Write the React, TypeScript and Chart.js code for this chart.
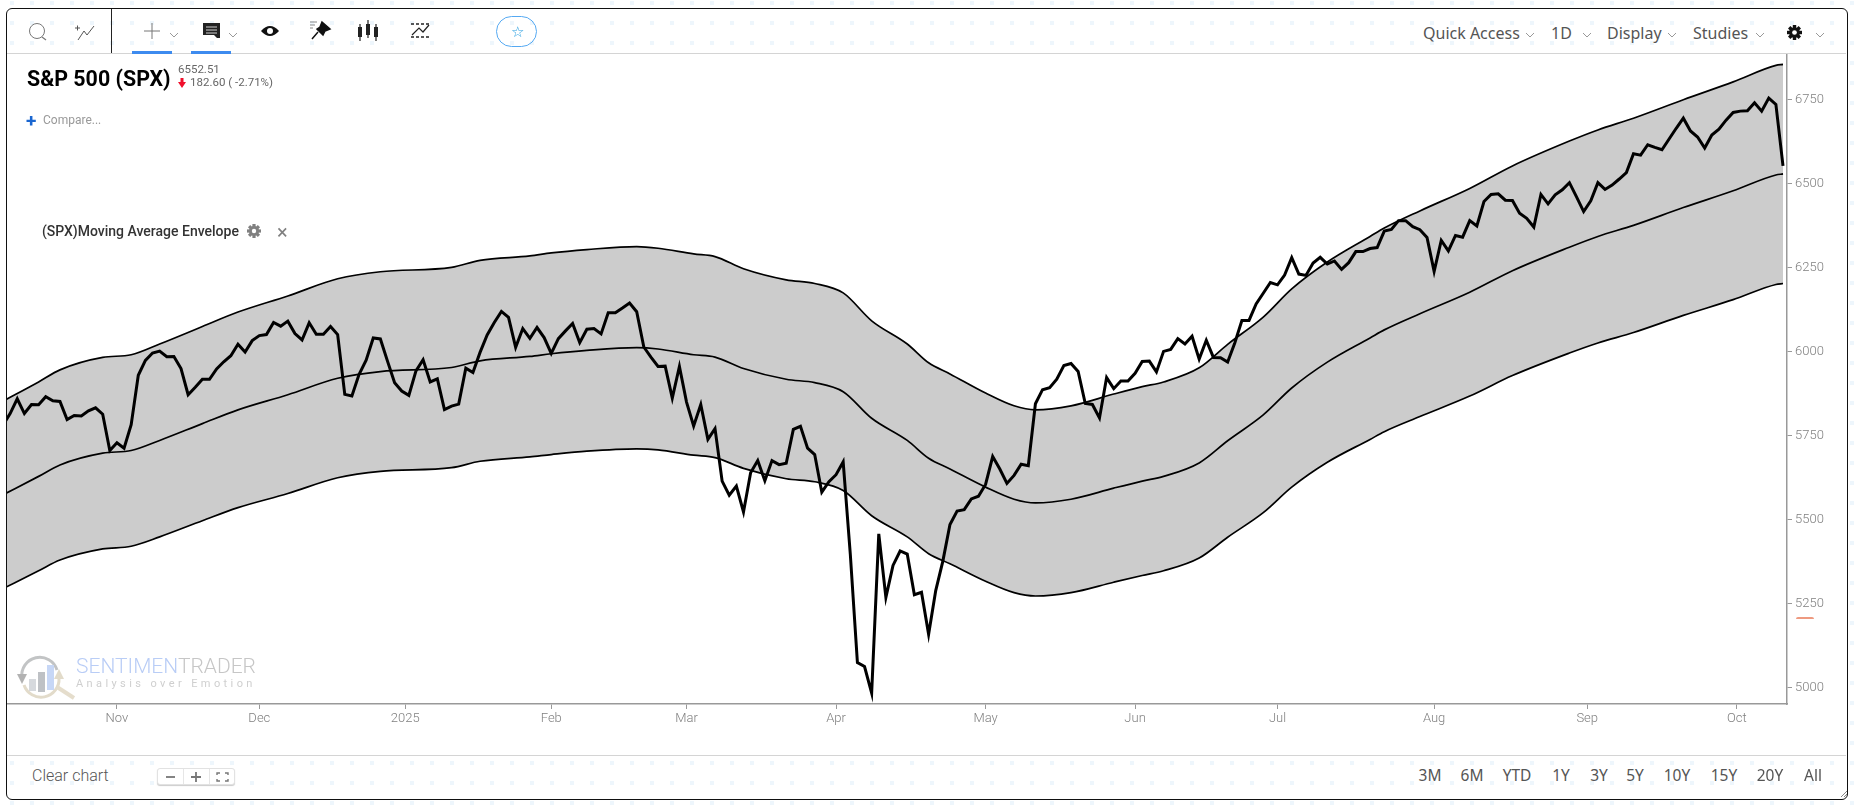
import React, { useEffect, useRef } from "react";
import { Chart, registerables } from "chart.js";

Chart.register(...registerables);

// SPX daily closes (10 Oct 2024 to 10 Oct 2025)
const price = [
  5780, 5815, 5859, 5815, 5842, 5841, 5865, 5853, 5851, 5797, 5809, 5808, 5823, 5832, 5813, 5705,
  5728, 5712, 5782, 5929, 5973, 5995, 6001, 5984, 5985, 5949, 5871, 5893, 5917, 5917, 5948, 5969, 5987, 6021, 5998, 6032,
  6047, 6050, 6086, 6075, 6090, 6053, 6034, 6085, 6051, 6051, 6074, 6050, 5872, 5867, 5931, 5974, 6040, 6037, 5971, 5907, 5882,
  5869, 5942, 5975, 5909, 5918, 5827, 5837, 5843, 5950, 5937, 5997, 6049, 6086, 6119, 6101, 6012, 6068, 6039, 6071, 6041,
  5994, 6038, 6061, 6083, 6026, 6066, 6068, 6052, 6115, 6115, 6129, 6144, 6118, 6013, 5983, 5955, 5956, 5861, 5955,
  5849, 5778, 5842, 5738, 5770, 5614, 5572, 5599, 5522, 5639, 5675, 5615, 5675, 5663, 5667, 5768, 5777, 5712, 5693, 5581, 5612,
  5633, 5671, 5397, 5074, 5062, 4983, 5457, 5268, 5363, 5406, 5397, 5276, 5283, 5158, 5288, 5376, 5485, 5525, 5529, 5561, 5569,
  5604, 5687, 5650, 5607, 5631, 5664, 5660, 5844, 5886, 5892, 5917, 5958, 5964, 5940, 5845, 5842, 5802, 5922, 5889, 5912, 5912,
  5935, 5970, 5971, 5939, 6000, 6006, 6038, 6022, 6045, 5977, 6033, 5982, 5981, 5968, 6025, 6092, 6092, 6141, 6173, 6205,
  6198, 6227, 6279, 6230, 6226, 6263, 6280, 6260, 6269, 6244, 6264, 6297, 6297, 6306, 6309, 6358, 6363, 6389, 6389, 6371, 6362, 6339,
  6238, 6330, 6299, 6345, 6340, 6389, 6373, 6446, 6467, 6469, 6450, 6449, 6411, 6396, 6370, 6467, 6439, 6466, 6481, 6502, 6460,
  6416, 6448, 6502, 6482, 6495, 6513, 6532, 6588, 6584, 6615, 6607, 6600, 6632, 6664, 6694, 6656, 6638, 6605, 6644, 6661, 6688,
  6711, 6715, 6716, 6740, 6715, 6754, 6735, 6552,
];

// Envelope curves at these trading-day positions
const bandAt = [0, 5, 8, 14, 18, 22, 28, 33, 40, 47, 53, 63, 67, 74, 77, 82, 89, 92, 97, 100, 104, 110, 114, 118, 122, 127, 130, 133, 138, 142, 145, 150, 156, 160, 163, 168, 172, 177, 181, 186, 192, 194, 199, 206, 212, 220, 224, 229, 236, 243, 249, 250];
const bandMiddle = [5573, 5628, 5662, 5697, 5705, 5735, 5785, 5826, 5871, 5920, 5940, 5952, 5972, 5985, 5993, 6003, 6011, 6007, 5990, 5983, 5949, 5917, 5907, 5880, 5801, 5735, 5682, 5650, 5596, 5560, 5549, 5560, 5593, 5614, 5628, 5668, 5734, 5811, 5891, 5968, 6040, 6064, 6112, 6176, 6240, 6310, 6342, 6375, 6428, 6478, 6525, 6528];
const bandUpper = [5852, 5909, 5945, 5982, 5990, 6022, 6074, 6117, 6165, 6216, 6237, 6250, 6271, 6284, 6293, 6303, 6312, 6307, 6290, 6282, 6246, 6213, 6202, 6174, 6091, 6022, 5966, 5933, 5876, 5838, 5826, 5838, 5873, 5895, 5909, 5951, 6021, 6102, 6186, 6266, 6342, 6367, 6418, 6485, 6552, 6626, 6659, 6694, 6749, 6802, 6851, 6854];
const bandLower = [5294, 5347, 5379, 5412, 5420, 5448, 5496, 5535, 5577, 5624, 5643, 5654, 5673, 5686, 5693, 5703, 5710, 5707, 5691, 5684, 5652, 5621, 5612, 5586, 5511, 5448, 5398, 5368, 5316, 5282, 5272, 5282, 5313, 5333, 5347, 5385, 5447, 5520, 5596, 5670, 5738, 5761, 5806, 5867, 5928, 5995, 6025, 6056, 6107, 6154, 6199, 6202];

const monthTicks = [16, 36, 56.5, 77, 96, 117, 138, 159, 179, 201, 222.5, 243.5];
const monthLabels = ["Nov", "Dec", "2025", "Feb", "Mar", "Apr", "May", "Jun", "Jul", "Aug", "Sep", "Oct"];
const priceTicks = [5000, 5250, 5500, 5750, 6000, 6250, 6500, 6750];
const rangeButtons = ["3M", "6M", "YTD", "1Y", "3Y", "5Y", "10Y", "15Y", "20Y", "All"];
const rangeCentres = [1430, 1472, 1517, 1561, 1599, 1635, 1677, 1724, 1770, 1813];

const dots = `url("data:image/svg+xml,%3Csvg xmlns='http://www.w3.org/2000/svg' width='20' height='20'%3E%3Crect x='10' y='1' width='4' height='4' fill='%23eef6fc'/%3E%3C/svg%3E")`;
const abs = (left: number, top: number, extra: any = {}) => ({ position: "absolute", left, top, ...extra });
const UI = "'Noto Sans', sans-serif";

function T({ x, y, children, size = 12, color = "#666", weight = 400, font = "Roboto", cx = false, style = {} }: any) {
  return (
    <div style={{ position: "absolute", left: x, top: y, transform: cx ? "translate(-50%,-50%)" : "translateY(-50%)", fontFamily: font, fontSize: size, color, fontWeight: weight, whiteSpace: "nowrap", lineHeight: 1, ...style }}>
      {children}
    </div>
  );
}

function Chevron({ x, y }: any) {
  return (
    <svg style={abs(x - 5, y - 3)} width="10" height="6">
      <path d="M1 1 L5 5 L9 1" fill="none" stroke="#999" strokeWidth="1" />
    </svg>
  );
}

function Gear({ x, y, size, color }: any) {
  const teeth = [0, 45, 90, 135].map((a) => (
    <rect key={a} x="-1.6" y="-7" width="3.2" height="14" fill={color} transform={`rotate(${a})`} />
  ));
  return (
    <svg style={abs(x - size / 2, y - size / 2)} width={size} height={size} viewBox="-7 -7 14 14">
      {teeth}
      <circle r="5" fill={color} />
      <circle r="2.2" fill="#fff" />
    </svg>
  );
}

function Icons() {
  return (
    <svg style={abs(0, 0)} width="460" height="56" fill="none">
      <circle cx="37" cy="31" r="7.5" stroke="#777" strokeWidth="1" />
      <path d="M42 37 L46 40" stroke="#777" strokeWidth="1.2" />
      <path d="M75 28 h5 M77.5 25.5 v5 M78 40 L84 31 L87 35 L94 26" stroke="#555" strokeWidth="1" />
      <path d="M152 23 V39 M144 31 H160" stroke="#777" strokeWidth="1" />
      <path d="M203 23 H220 V38 H217 L214 35 H203 Z" fill="#222" />
      <path d="M206 27 H217 M206 30 H217 M206 33 H217" stroke="#fff" strokeWidth="0.8" />
      <path d="M261 31 Q270 21 279 31 Q270 41 261 31 Z" fill="#111" />
      <circle cx="270" cy="31" r="3" fill="#fff" />
      <path d="M310 22 H317 M310 25 H315 M310 28 H313" stroke="#888" strokeWidth="1" />
      <path d="M322 22 L330 29 L325 31 L323 35 L317 29 L320 27 Z M318 32 L312 39" fill="#111" stroke="#111" strokeWidth="1.5" />
      <path d="M360 24 V41 M368 20 V38 M376 24 V41" stroke="#222" strokeWidth="1.2" />
      <rect x="358" y="27" width="4" height="10" fill="#222" />
      <rect x="366" y="24" width="4" height="11" fill="#222" />
      <rect x="374" y="27" width="4" height="10" fill="#222" />
      <path d="M411 24 H429 M411 37 H429" stroke="#222" strokeWidth="1.3" strokeDasharray="3 2" />
      <path d="M412 35 L419 28 L423 32 L429 25" stroke="#222" strokeWidth="1.2" />
    </svg>
  );
}

function Logo() {
  return (
    <svg style={abs(16, 654)} width="66" height="46" fill="none" opacity="0.75">
      <path d="M6 24 A18 18 0 0 1 41 16" stroke="#aeb0b2" strokeWidth="3" />
      <path d="M1 20 L11 20 L6 30 Z" fill="#999" />
      <path d="M43 24 A18 18 0 0 1 8 31" stroke="#d9cfb8" strokeWidth="3" />
      <path d="M38 25 L48 25 L43 15 Z" fill="#d9cfb8" />
      <rect x="13" y="25" width="7" height="12" fill="#c9cdd2" />
      <rect x="22" y="18" width="7" height="20" fill="#a9adb2" />
      <rect x="31" y="11" width="7" height="25" fill="#b4caf3" />
      <path d="M41 33 L58 44" stroke="#dcd2bb" strokeWidth="4" />
    </svg>
  );
}

export default function App() {
  const ref = useRef<HTMLCanvasElement>(null);

  useEffect(() => {
    document.body.style.margin = "0";
    const series = (values: number[]) => values.map((y, i) => ({ x: bandAt[i], y }));
    const bandLine = {
      borderColor: "#000",
      borderWidth: 1.7,
      pointRadius: 0,
      cubicInterpolationMode: "monotone" as const,
    };
    const chart = new Chart(ref.current!, {
      type: "line",
      data: {
        datasets: [
          { label: "SPX", data: price.map((y, x) => ({ x, y })), borderColor: "#000", borderWidth: 3, pointRadius: 0, tension: 0, borderJoinStyle: "miter", order: 0, fill: false },
          { label: "Upper", data: series(bandUpper), ...bandLine, backgroundColor: "#cccccc", fill: { target: 2 }, order: 3 },
          { label: "Lower", data: series(bandLower), ...bandLine, fill: false, order: 2 },
          { label: "Middle", data: series(bandMiddle), ...bandLine, fill: false, order: 1 },
        ],
      },
      options: {
        animation: false,
        responsive: false,
        layout: { padding: 0 },
        plugins: { legend: { display: false }, tooltip: { enabled: false } },
        scales: {
          x: {
            type: "linear",
            min: 0.56,
            max: price.length - 1 + 0.56,
            afterBuildTicks: (s: any) => { s.ticks = monthTicks.map((value) => ({ value })); },
            afterFit: (s: any) => { s.height = 50; s.paddingLeft = 0; s.paddingRight = 0; },
            grid: { drawOnChartArea: false, tickLength: 5, color: "#999" },
            border: { color: "#999", width: 1.5 },
            ticks: {
              autoSkip: false,
              maxRotation: 0,
              padding: 2,
              color: "#808080",
              font: { family: "Roboto", size: 13, weight: "300" },
              callback: (v: any) => monthLabels[monthTicks.indexOf(Number(v))] ?? "",
            },
          },
          y: {
            position: "right",
            min: 4950.6,
            max: 6885,
            afterBuildTicks: (s: any) => { s.ticks = priceTicks.map((value) => ({ value })); },
            afterFit: (s: any) => { s.width = 59; s.paddingTop = 0; s.paddingBottom = 0; },
            grid: { drawOnChartArea: false, tickLength: 5, color: "#999" },
            border: { color: "#999", width: 1.5 },
            ticks: {
              padding: 3,
              color: "#808080",
              font: { family: "Roboto", size: 13, weight: "300" },
              callback: (v: any) => String(v),
            },
          },
        },
      },
    });
    return () => chart.destroy();
  }, []);

  return (
    <div style={{ position: "absolute", left: 0, top: 0, width: 1854, height: 805, overflow: "hidden", backgroundColor: "#fff", backgroundImage: dots }}>
      <div style={{ position: "absolute", left: 6, top: 8, width: 1840, height: 790, border: "1.5px solid #111", borderRadius: 6 }} />
      <div style={{ position: "absolute", left: 7, top: 53, width: 1839, height: 701, background: "#fff", borderTop: "1px solid #d4d4d4", borderBottom: "1px solid #d4d4d4" }} />
      <canvas ref={ref} width={1839} height={700} style={{ position: "absolute", left: 7, top: 54, display: "block" }} />

      <div style={{ position: "absolute", left: 111, top: 9, width: 1, height: 44, background: "#222" }} />
      <Icons />
      <div style={{ position: "absolute", left: 132, top: 51, width: 40, height: 3, background: "#3d8bef" }} />
      <div style={{ position: "absolute", left: 191, top: 51, width: 40, height: 3, background: "#3d8bef" }} />
      <Chevron x={174} y={35} />
      <Chevron x={233} y={35} />
      <div style={{ position: "absolute", left: 496, top: 16, width: 41, height: 31, border: "1px solid #55a9f2", borderRadius: 16, boxSizing: "border-box" }} />
      <T x={517} y={32} cx size={15} color="#2a9fe0">☆</T>

      <T x={27} y={79} size={21.4} color="#000" weight={700}>S&amp;P 500 (SPX)</T>
      <T x={178} y={70} size={11.5} color="#666">6552.51</T>
      <svg style={abs(178, 78)} width="8" height="10"><path d="M2.5 0 H5.5 V4 H8 L4 10 L0 4 H2.5 Z" fill="#f0102c" /></svg>
      <T x={190} y={83} size={11.5} color="#666">182.60 ( -2.71%)</T>
      <T x={26} y={120} size={19} color="#1a66d0" weight={700}>+</T>
      <T x={43} y={120} size={12} color="#999">Compare...</T>
      <T x={42} y={231} size={14} color="#333" weight={500}>(SPX)Moving Average Envelope</T>
      <Gear x={254} y={231} size={14} color="#808080" />
      <T x={277} y={232} size={20} color="#808080">×</T>

      <T x={1423} y={33} size={16} color="#555" font={UI}>Quick Access</T>
      <Chevron x={1530} y={35} />
      <T x={1551} y={33} size={16} color="#555" font={UI}>1D</T>
      <Chevron x={1587} y={35} />
      <T x={1607} y={33} size={16} color="#555" font={UI}>Display</T>
      <Chevron x={1672} y={35} />
      <T x={1693} y={33} size={16} color="#555" font={UI}>Studies</T>
      <Chevron x={1760} y={35} />
      <Gear x={1794} y={32} size={15} color="#111" />
      <Chevron x={1820} y={35} />

      <Logo />
      <T x={76} y={666} size={21} color="#b9cdf6" weight={300}>SENTIMEN<span style={{ color: "#c6c6c6" }}>TRADER</span></T>
      <T x={76} y={683} size={11} color="#cfcfcf" style={{ letterSpacing: 3.4 }}>Analysis over Emotion</T>

      <div style={{ position: "absolute", left: 1796, top: 617, width: 18, height: 2, background: "#ee9a80", borderRadius: "9px 9px 0 0" }} />

      <T x={32} y={776} size={16} color="#555" weight={300}>Clear chart</T>
      <div style={{ position: "absolute", left: 157, top: 768, width: 78, height: 17, border: "1px solid #e2e2e2", borderRadius: 3, background: "#fff", boxSizing: "border-box", boxShadow: "0 1px 1px #ccc" }}>
        <div style={{ position: "absolute", left: 25, top: 0, width: 1, height: 15, background: "#e6e6e6" }} />
        <div style={{ position: "absolute", left: 51, top: 0, width: 1, height: 15, background: "#e6e6e6" }} />
        <svg style={abs(0, 0)} width="76" height="15" fill="none" stroke="#777">
          <path d="M8 8 H17" strokeWidth="1.8" />
          <path d="M33 8 H43 M38 3 V13" strokeWidth="1.8" />
          <path d="M59 6 V4 H62 M67 4 H70 V6 M70 10 V12 H67 M62 12 H59 V10" strokeWidth="1.4" />
        </svg>
      </div>
      {rangeButtons.map((b, i) => (
        <T key={b} x={rangeCentres[i]} y={776} cx size={15.5} color="#555" font={UI}>{b}</T>
      ))}
      <svg style={abs(1840, 790)} width="8" height="8" stroke="#888"><path d="M7 1 L1 7 M7 4 L4 7" /></svg>
    </div>
  );
}
